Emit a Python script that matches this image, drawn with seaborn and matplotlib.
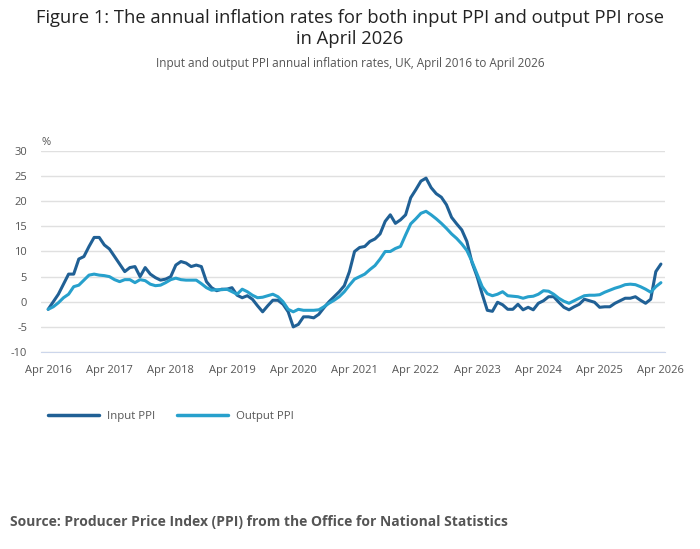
import numpy as np
import pandas as pd
import matplotlib
matplotlib.use("Agg")
import matplotlib.pyplot as plt
import seaborn as sns

# monthly, Apr 2016 .. Apr 2026 (121 points)
input_ppi = [
    -1.5, 0.0, 1.5, 3.5, 5.5, 5.5, 8.5, 9.0, 11.0, 12.8, 12.8, 11.3,      # Apr16-Mar17
    10.5, 9.0, 7.5, 6.0, 6.8, 7.0, 5.0, 6.8, 5.5, 4.8, 4.3, 4.5,          # Apr17-Mar18
    5.0, 7.3, 8.0, 7.7, 7.0, 7.3, 7.0, 4.0, 2.8, 2.2, 2.5, 2.5,           # Apr18-Mar19
    2.8, 1.3, 0.8, 1.2, 0.5, -0.8, -2.0, -0.8, 0.3, 0.3, -0.5, -2.0,      # Apr19-Mar20
    -5.0, -4.5, -3.0, -3.0, -3.2, -2.5, -1.2, 0.0, 1.0, 2.0, 3.2, 6.0,    # Apr20-Mar21
    10.0, 10.8, 11.0, 12.0, 12.5, 13.5, 16.0, 17.3, 15.6, 16.3, 17.3, 20.7,  # Apr21-Mar22
    22.3, 24.0, 24.6, 22.7, 21.5, 20.8, 19.3, 16.8, 15.5, 14.3, 12.0, 7.8,   # Apr22-Mar23
    5.0, 1.5, -1.7, -1.9, -0.1, -0.6, -1.5, -1.5, -0.5, -1.6, -1.1, -1.6,  # Apr23-Mar24
    -0.3, 0.2, 1.0, 1.0, -0.1, -1.1, -1.6, -1.0, -0.5, 0.5, 0.2, -0.1,    # Apr24-Mar25
    -1.1, -1.0, -1.0, -0.3, 0.2, 0.7, 0.7, 1.0, 0.3, -0.3, 0.5, 6.0,      # Apr25-Mar26
    7.5,                                                                 # Apr26
]
output_ppi = [
    -1.5, -1.0, -0.2, 0.8, 1.5, 3.0, 3.3, 4.3, 5.3, 5.5, 5.3, 5.2,
    5.0, 4.4, 4.0, 4.4, 4.4, 3.8, 4.4, 4.2, 3.5, 3.2, 3.3, 3.8,
    4.4, 4.7, 4.4, 4.3, 4.3, 4.3, 3.6, 2.8, 2.3, 2.4, 2.4, 2.5,
    2.0, 1.5, 2.5, 2.0, 1.3, 0.8, 0.9, 1.2, 1.5, 1.0, 0.0, -1.5,
    -2.0, -1.5, -1.7, -1.7, -1.7, -1.6, -1.0, -0.3, 0.3, 1.0, 2.0, 3.3,
    4.5, 5.0, 5.5, 6.4, 7.2, 8.5, 10.0, 10.0, 10.6, 11.0, 13.3, 15.5,
    16.5, 17.6, 18.0, 17.3, 16.5, 15.6, 14.6, 13.5, 12.6, 11.5, 10.2, 8.0,
    5.5, 3.0, 1.6, 1.2, 1.5, 2.0, 1.2, 1.1, 1.0, 0.7, 1.0, 1.1,
    1.5, 2.2, 2.1, 1.5, 0.7, 0.1, -0.3, 0.2, 0.7, 1.2, 1.3, 1.3,
    1.4, 1.9, 2.3, 2.7, 3.0, 3.4, 3.5, 3.4, 3.0, 2.5, 1.9, 3.0,
    3.8,
]
tick_labels = ["Apr 2016", "Apr 2017", "Apr 2018", "Apr 2019", "Apr 2020", "Apr 2021",
               "Apr 2022", "Apr 2023", "Apr 2024", "Apr 2025", "Apr 2026"]
y_ticks = [30, 25, 20, 15, 10, 5, 0, -5, -10]

months = np.arange(len(input_ppi))
df = pd.DataFrame({
    "month": np.concatenate([months, months]),
    "value": input_ppi + output_ppi,
    "series": ["Input PPI"] * len(input_ppi) + ["Output PPI"] * len(output_ppi),
})

sns.set_style("white")
plt.rcParams["font.family"] = ["Open Sans", "DejaVu Sans"]

fig = plt.figure(figsize=(7, 5.49), dpi=100)
ax = fig.add_axes([0.0586, 0.3588, 0.8914, 0.3662])

palette = {"Input PPI": "#206095", "Output PPI": "#27a0cc"}
sns.lineplot(data=df, x="month", y="value", hue="series", palette=palette,
             linewidth=2.2, ax=ax, legend=False)

ax.set_xlim(-1.4, 120.8)
ax.set_ylim(-10, 30)
ax.set_yticks(y_ticks)
ax.set_yticklabels([str(v) for v in y_ticks])
ax.set_xticks(np.arange(0, 121, 12))
ax.set_xticklabels(tick_labels)
ax.yaxis.grid(True, color="#e0e0e0", linewidth=1)
ax.set_axisbelow(True)
for s in ["top", "right", "left"]:
    ax.spines[s].set_visible(False)
ax.spines["bottom"].set_color("#ccd6eb")
ax.tick_params(axis="x", length=8, color="#ccd6eb", labelsize=8, labelcolor="#555555", pad=1)
ax.tick_params(axis="y", length=0, labelsize=8, labelcolor="#555555", pad=10)
ax.set_xlabel("")
ax.set_ylabel("")
ax.text(0.0, 1.015, "%", transform=ax.transAxes, fontsize=8, color="#555555",
        ha="left", va="bottom")

handles = [plt.Line2D([], [], color=palette[k], linewidth=2.5) for k in palette]
fig.legend(handles, list(palette.keys()), loc="center left", bbox_to_anchor=(0.054, 0.242),
           ncol=2, frameon=False, fontsize=8.2, handlelength=4.5, handletextpad=0.7,
           columnspacing=1.9, labelcolor="#555555")

fig.text(0.5, 0.983, "Figure 1: The annual inflation rates for both input PPI and output PPI rose\nin April 2026",
         ha="center", va="top", fontsize=13.2, color="#222222", linespacing=1.2)
fig.text(0.5, 0.884, "Input and output PPI annual inflation rates, UK, April 2016 to April 2026",
         ha="center", va="center", fontsize=8.5, color="#555555")
fig.text(0.014, 0.049, "Source: Producer Price Index (PPI) from the Office for National Statistics",
         ha="left", va="center", fontsize=10, fontweight="bold", color="#555555")

fig.savefig("out.png", dpi=100)
